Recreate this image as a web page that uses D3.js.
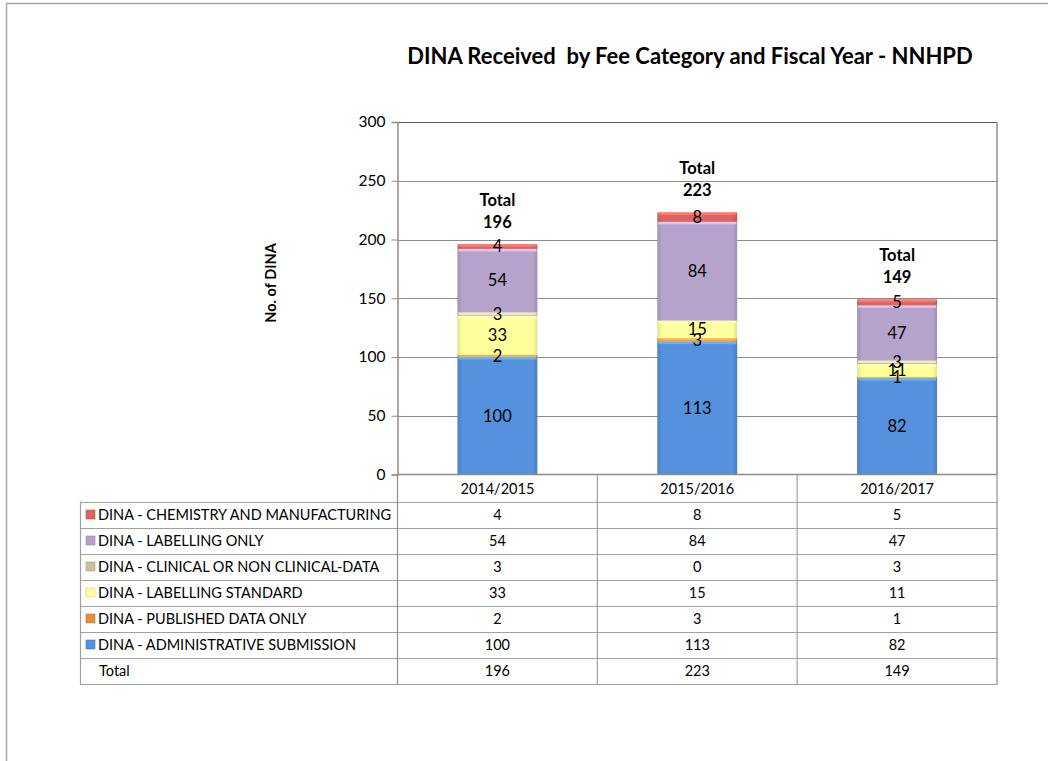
<!DOCTYPE html>
<html>
<head>
<meta charset="utf-8">
<title>DINA Received by Fee Category and Fiscal Year - NNHPD</title>
<style>
  body { margin: 0; background: #fff; }
  svg { display: block; font-family: Lato, "Liberation Sans", sans-serif; }
</style>
</head>
<body>
<div id="chart"></div>
<script src="https://cdn.jsdelivr.net/npm/d3@7"></script>
<script>
// fiscal years (categories)
var years = ["2014/2015", "2015/2016", "2016/2017"];

// series, stacked bottom to top
var seriesNames = [
  "DINA - ADMINISTRATIVE SUBMISSION",
  "DINA - PUBLISHED DATA ONLY",
  "DINA - LABELLING STANDARD",
  "DINA - CLINICAL OR NON CLINICAL-DATA",
  "DINA - LABELLING ONLY",
  "DINA - CHEMISTRY AND MANUFACTURING"
];
var adminSubmission   = [100, 113, 82];
var publishedData     = [2, 3, 1];
var labellingStandard = [33, 15, 11];
var clinicalData      = [3, 0, 3];
var labellingOnly     = [54, 84, 47];
var chemistryManuf    = [4, 8, 5];
var totals = [196, 223, 149];

var yTicks = [0, 50, 100, 150, 200, 250, 300];

var seriesValues = [adminSubmission, publishedData, labellingStandard, clinicalData, labellingOnly, chemistryManuf];
var colors = ["#5591dc", "#e0913f", "#ffff9c", "#c9c19c", "#b5a3cc", "#df6460"];

var W = 1048, H = 761;
var plot = {left: 397.5, right: 997, top: 122, bottom: 474.5};
var tableLeft = 80, rowH = 26;

var svg = d3.select("#chart").append("svg").attr("width", W).attr("height", H);

// outer frame (only top and left edges visible)
svg.append("path").attr("d", "M6.5," + H + "V3.5H" + W)
  .attr("fill", "none").attr("stroke", "#a6a6a6").attr("stroke-width", 1.5);

var x = d3.scaleBand().domain(years).range([plot.left, plot.right]).paddingInner(0).paddingOuter(0);
var y = d3.scaleLinear().domain([0, 300]).range([plot.bottom, plot.top]);
var barW = x.bandwidth() * 0.4;

// gradients for a bevel-ish look
var defs = svg.append("defs");
colors.forEach(function (c, i) {
  var g = defs.append("linearGradient").attr("id", "g" + i).attr("x1", 0).attr("x2", 1).attr("y1", 0).attr("y2", 0);
  var dark = d3.color(c).darker(0.35);
  g.append("stop").attr("offset", "0%").attr("stop-color", dark);
  g.append("stop").attr("offset", "6%").attr("stop-color", c);
  g.append("stop").attr("offset", "94%").attr("stop-color", c);
  g.append("stop").attr("offset", "100%").attr("stop-color", dark);
});

// gridlines
svg.append("g").selectAll("line").data(yTicks.filter(function (d) { return d > 0 && d < 300; }))
  .enter().append("line")
  .attr("x1", plot.left).attr("x2", plot.right)
  .attr("y1", function (d) { return Math.round(y(d)) + 0.5; })
  .attr("y2", function (d) { return Math.round(y(d)) + 0.5; })
  .attr("stroke", "#8c8c8c");

// plot border top and right
svg.append("path").attr("d", "M" + plot.left + "," + (plot.top + 0.5) + "H" + plot.right + "V" + plot.bottom)
  .attr("fill", "none").attr("stroke", "#595959");

// y axis
var yAxis = d3.axisLeft(y).tickValues(yTicks).tickSize(6).tickPadding(6);
var ya = svg.append("g").attr("transform", "translate(" + plot.left + ",0)").call(yAxis);
ya.select(".domain").attr("stroke", "#8c8c8c").attr("stroke-width", 1.5);
ya.selectAll(".tick line").attr("stroke", "#8c8c8c");
ya.selectAll(".tick text").attr("font-size", 15.5).attr("fill", "#000").attr("font-family", "Lato, sans-serif");

svg.append("text")
  .attr("transform", "translate(276,283) rotate(-90)")
  .attr("text-anchor", "middle").attr("font-weight", "bold").attr("font-size", 14.5)
  .text("No. of DINA");

// stacked bars
var stackData = years.map(function (yr, j) {
  var o = {year: yr};
  seriesValues.forEach(function (s, i) { o["s" + i] = s[j]; });
  return o;
});
var stack = d3.stack().keys(seriesValues.map(function (s, i) { return "s" + i; }));
var layers = stack(stackData);

var bars = svg.append("g");
layers.forEach(function (layer, i) {
  var g = bars.append("g");
  layer.forEach(function (d) {
    var y0 = y(d[0]), y1 = y(d[1]);
    if (y0 - y1 <= 0) return;
    var bx = x(d.data.year) + (x.bandwidth() - barW) / 2;
    g.append("rect").attr("x", bx).attr("y", y1).attr("width", barW).attr("height", y0 - y1)
      .attr("fill", "url(#g" + i + ")");
    // top highlight strip
    g.append("rect").attr("x", bx + 1).attr("y", y1).attr("width", barW - 2).attr("height", Math.min(2.5, y0 - y1))
      .attr("fill", d3.color(colors[i]).brighter(0.6)).attr("opacity", 0.9);
  });
});

// segment labels
layers.forEach(function (layer, i) {
  layer.forEach(function (d) {
    var v = d[1] - d[0];
    if (v <= 0) return;
    svg.append("text")
      .attr("x", x(d.data.year) + x.bandwidth() / 2)
      .attr("y", (y(d[0]) + y(d[1])) / 2)
      .attr("dy", "0.35em").attr("text-anchor", "middle").attr("font-size", 16.5)
      .text(v);
  });
});

// total labels
years.forEach(function (yr, j) {
  var cx = x(yr) + x.bandwidth() / 2;
  var top = y(totals[j]);
  svg.append("text").attr("x", cx).attr("y", top - 44).attr("dy", "0.35em")
    .attr("text-anchor", "middle").attr("font-weight", "bold").attr("font-size", 16.5).text("Total");
  svg.append("text").attr("x", cx).attr("y", top - 22).attr("dy", "0.35em")
    .attr("text-anchor", "middle").attr("font-weight", "bold").attr("font-size", 16.5).text(totals[j]);
});

// x axis line
svg.append("line").attr("x1", plot.left).attr("x2", plot.right)
  .attr("y1", plot.bottom).attr("y2", plot.bottom).attr("stroke", "#8c8c8c").attr("stroke-width", 1.5);

// data table
var tableRows = [5, 4, 3, 2, 1, 0].map(function (i) {
  return {name: seriesNames[i], color: colors[i], values: seriesValues[i]};
});
tableRows.push({name: "Total", color: null, values: totals});

var tbl = svg.append("g");
var firstRow = plot.bottom + rowH + 1;
var lineColor = "#a0a0a0";

// header labels
years.forEach(function (yr) {
  tbl.append("text").attr("x", x(yr) + x.bandwidth() / 2).attr("y", plot.bottom + 14)
    .attr("dy", "0.35em").attr("text-anchor", "middle").attr("font-size", 14.5).text(yr);
});

// horizontal lines
d3.range(tableRows.length + 1).forEach(function (r) {
  var ly = Math.round(firstRow + r * rowH) + 0.5;
  tbl.append("line").attr("x1", tableLeft).attr("x2", plot.right).attr("y1", ly).attr("y2", ly)
    .attr("stroke", lineColor).attr("stroke-width", 1.2);
});
var tableBottom = Math.round(firstRow + tableRows.length * rowH) + 0.5;

// vertical lines
tbl.append("line").attr("x1", tableLeft + 0.5).attr("x2", tableLeft + 0.5)
  .attr("y1", firstRow).attr("y2", tableBottom).attr("stroke", lineColor).attr("stroke-width", 1.2);
years.forEach(function (yr, j) {
  var lx = x(yr) + x.bandwidth();
  tbl.append("line").attr("x1", lx).attr("x2", lx)
    .attr("y1", plot.bottom).attr("y2", tableBottom).attr("stroke", j === years.length - 1 ? "#8c8c8c" : lineColor)
    .attr("stroke-width", 1.2);
});
tbl.append("line").attr("x1", plot.left).attr("x2", plot.left)
  .attr("y1", plot.bottom).attr("y2", tableBottom).attr("stroke", "#8c8c8c").attr("stroke-width", 1.2);

tableRows.forEach(function (row, r) {
  var cy = firstRow + r * rowH + rowH / 2;
  if (row.color) {
    tbl.append("rect").attr("x", 86).attr("y", cy - 4.5).attr("width", 9).attr("height", 9)
      .attr("fill", row.color).attr("stroke", d3.color(row.color).darker(0.5)).attr("stroke-width", 0.6);
  }
  tbl.append("text").attr("x", row.color ? 98 : 99).attr("y", cy).attr("dy", "0.35em")
    .attr("font-size", 14.5).text(row.name);
  row.values.forEach(function (v, j) {
    tbl.append("text").attr("x", x(years[j]) + x.bandwidth() / 2).attr("y", cy).attr("dy", "0.35em")
      .attr("text-anchor", "middle").attr("font-size", 14.5).text(v);
  });
});

// title
svg.append("text").attr("x", 690).attr("y", 64).attr("text-anchor", "middle")
  .attr("font-weight", "bold").attr("font-size", 22)
  .attr("xml:space", "preserve").style("white-space", "pre")
  .text("DINA Received  by Fee Category and Fiscal Year - NNHPD");
</script>
</body>
</html>
